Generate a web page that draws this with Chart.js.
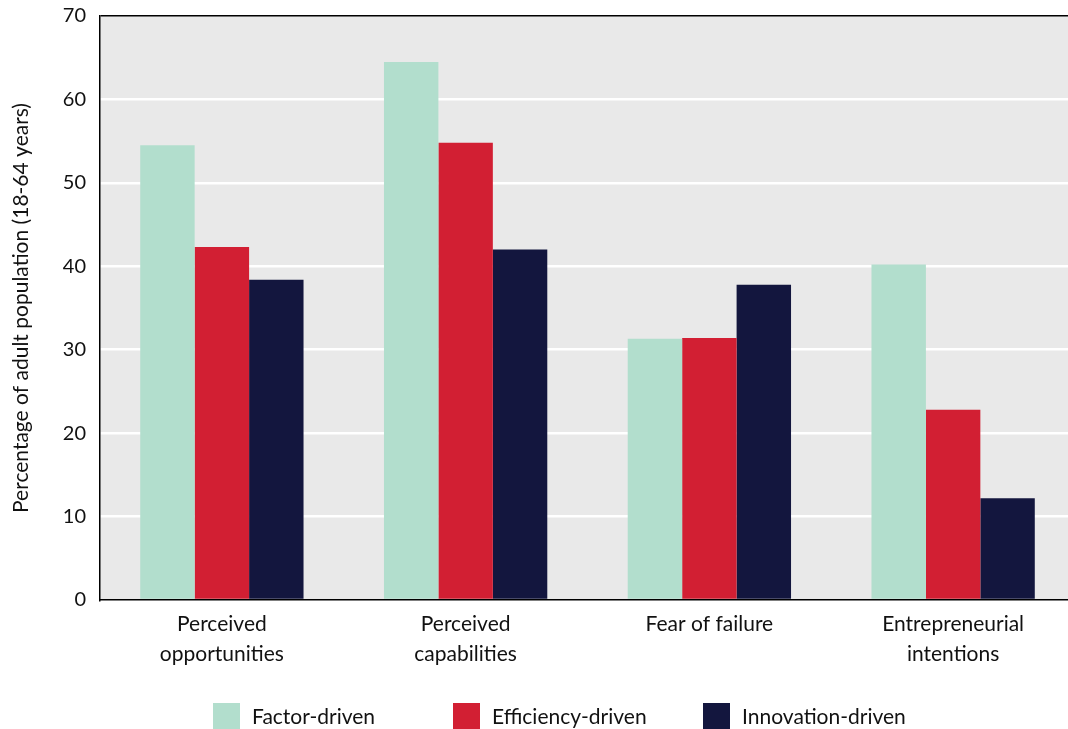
<!DOCTYPE html>
<html>
<head>
<meta charset="utf-8">
<script src="https://cdn.jsdelivr.net/npm/chart.js@4"></script>
<style>
html, body { margin: 0; padding: 0; background: #fff; overflow: hidden; }
#wrap { width: 1075px; height: 729px; position: relative; }
</style>
</head>
<body>
<div id="wrap"><canvas id="chart"></canvas></div>
<script>
var categories = [['Perceived', 'opportunities'], ['Perceived', 'capabilities'], ['Fear of failure'], ['Entrepreneurial', 'intentions']];
var seriesNames = ['Factor-driven', 'Efficiency-driven', 'Innovation-driven'];
var factorDriven = [54.5, 64.5, 31.3, 40.2];
var efficiencyDriven = [42.3, 54.8, 31.4, 22.8];
var innovationDriven = [38.4, 42.0, 37.8, 12.2];
var yTicks = [0, 10, 20, 30, 40, 50, 60, 70];
var seriesColors = ['#b2decd', '#d21f33', '#13163e'];

var fontFamily = 'Lato, "Noto Sans", sans-serif';
var textColor = '#111';

// grey panel behind the bars
var panelBackground = {
    id: 'panelBackground',
    beforeDraw: function(chart) {
        var a = chart.chartArea, ctx = chart.ctx;
        ctx.save();
        ctx.fillStyle = '#e9e9e9';
        ctx.fillRect(a.left, a.top, a.right - a.left, a.bottom - a.top);
        ctx.restore();
    }
};

// legend row along the bottom, fixed columns
var legendX = [213, 453, 703];
var bottomLegend = {
    id: 'bottomLegend',
    afterDraw: function(chart) {
        var ctx = chart.ctx;
        ctx.save();
        ctx.font = '21px ' + fontFamily;
        ctx.textBaseline = 'middle';
        ctx.textAlign = 'left';
        chart.data.datasets.forEach(function(ds, i) {
            ctx.fillStyle = ds.backgroundColor;
            ctx.fillRect(legendX[i], 703, 27, 27);
            ctx.fillStyle = textColor;
            ctx.fillText(ds.label, legendX[i] + 39, 717);
        });
        ctx.restore();
    }
};

var ctx = document.getElementById('chart').getContext('2d');
var chart = new Chart(ctx, {
    type: 'bar',
    data: {
        labels: categories,
        datasets: [
            { label: seriesNames[0], data: factorDriven, backgroundColor: seriesColors[0] },
            { label: seriesNames[1], data: efficiencyDriven, backgroundColor: seriesColors[1] },
            { label: seriesNames[2], data: innovationDriven, backgroundColor: seriesColors[2] }
        ]
    },
    options: {
        responsive: true,
        maintainAspectRatio: false,
        animation: false,
        layout: { padding: { top: 16, right: 0, bottom: 60, left: 0 } },
        datasets: { bar: { categoryPercentage: 0.67, barPercentage: 1.0 } },
        plugins: {
            legend: { display: false },
            tooltip: { enabled: false }
        },
        scales: {
            x: {
                grid: { display: false, drawTicks: false },
                border: { color: '#000', width: 1.5 },
                ticks: {
                    color: textColor,
                    padding: 10,
                    maxRotation: 0,
                    font: { family: fontFamily, size: 21, lineHeight: 1.4 }
                },
                afterFit: function(scale) { scale.height = 69; }
            },
            y: {
                min: 0,
                max: 70,
                afterBuildTicks: function(scale) {
                    scale.ticks = yTicks.map(function(v) { return { value: v }; });
                },
                grid: {
                    drawTicks: false,
                    color: function(c) { return c.tick && c.tick.value === 70 ? '#000' : '#ffffff'; },
                    lineWidth: function(c) { return c.tick && c.tick.value === 70 ? 1.5 : 2.5; }
                },
                border: { color: '#000', width: 1.5 },
                ticks: {
                    color: textColor,
                    padding: 14,
                    font: { family: fontFamily, size: 20 }
                },
                title: {
                    display: true,
                    text: 'Percentage of adult population (18-64 years)',
                    color: textColor,
                    font: { family: fontFamily, size: 21 },
                    padding: { top: 9, bottom: 0 }
                },
                afterFit: function(scale) {
                    scale.width = 100;
                    scale.paddingTop = 0;
                    scale.paddingBottom = 0;
                }
            }
        }
    },
    plugins: [panelBackground, bottomLegend]
});
</script>
</body>
</html>
